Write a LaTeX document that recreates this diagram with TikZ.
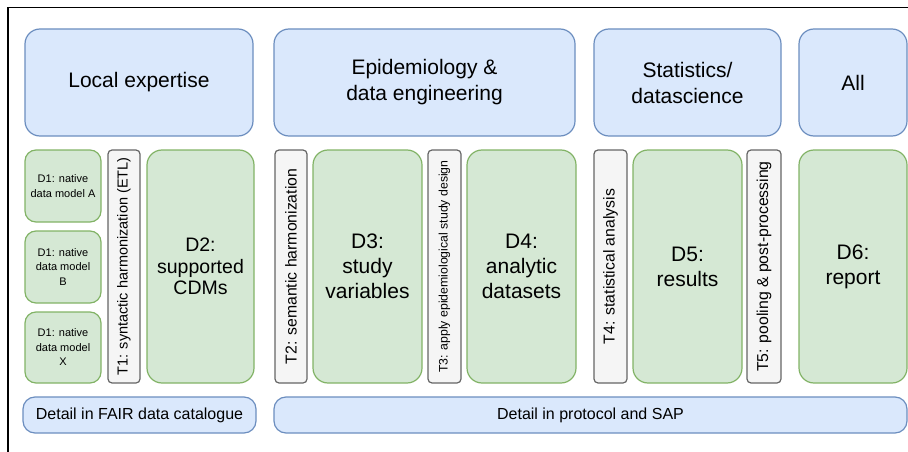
\documentclass[tikz,border=0pt]{standalone}
\usepackage{fontspec}
\setmainfont{Liberation Sans}
\definecolor{bfill}{HTML}{DAE8FC}
\definecolor{bline}{HTML}{6C8EBF}
\definecolor{gfill}{HTML}{D5E8D4}
\definecolor{gline}{HTML}{82B366}
\definecolor{tfill}{HTML}{F5F5F5}
\definecolor{tline}{HTML}{666666}
\tikzset{
  every node/.style={inner sep=0pt, outer sep=0pt},
  headbox/.style={draw=bline, fill=bfill, line width=1.2pt, rounded corners=15pt, align=center,
     font=\fontsize{21}{26}\selectfont},
  footbox/.style={draw=bline, fill=bfill, line width=1.2pt, rounded corners=12pt, align=center,
     font=\fontsize{16}{19}\selectfont},
  dbox/.style={draw=gline, fill=gfill, line width=1.2pt, rounded corners=15pt, align=center,
     font=\fontsize{21}{25}\selectfont},
  dsmall/.style={draw=gline, fill=gfill, line width=1.2pt, rounded corners=11pt, align=center,
     font=\fontsize{11}{14.5}\selectfont},
  tbox/.style={draw=tline, fill=tfill, line width=1.2pt, rounded corners=4pt, rotate=90,
     font=\fontsize{15.8}{18}\selectfont},
}
\newcommand{\bx}[6]{\node[#1, minimum width=#4, minimum height=#5] (#6) at (#2,#3)}
\begin{document}
\begin{tikzpicture}[x=1pt,y=-1pt]
\useasboundingbox (0,0) rectangle (908,452);
\draw[line width=1.5pt] (8,452) -- (8,7.5) -- (908,7.5);
% header row
\bx{headbox}{139}{82.5}{228}{107}{local} {Local expertise};
\bx{headbox}{424.5}{82.5}{301}{107}{epi} {Epidemiology \&\\data engineering};
\bx{headbox}{687.5}{82.5}{187}{107}{stat} {Statistics/\\datascience};
\bx{headbox}{853}{82.5}{108}{107}{all} {All};
% D1 boxes
\bx{dsmall}{63}{186}{76}{72}{d1a} {D1: native\\data model A};
\bx{dsmall}{63}{267}{76}{72}{d1b} {D1: native\\data model\\B};
\bx{dsmall}{63}{347.5}{76}{71}{d1x} {D1: native\\data model\\X};
% transformation boxes (rotated: width = vertical extent)
\bx{tbox,font=\fontsize{14.5}{17}\selectfont}{124}{266.5}{233}{32}{t1} {T1: syntactic harmonization (ETL)};
\bx{tbox}{291}{266.5}{233}{32}{t2} {T2: semantic harmonization};
\bx{tbox,font=\fontsize{12.3}{14}\selectfont}{444.5}{266.5}{233}{33}{t3} {T3: apply epidemiological study design};
\bx{tbox}{610.5}{266.5}{233}{33}{t4} {T4: statistical analysis};
\bx{tbox}{764}{266.5}{233}{34}{t5} {T5: pooling \& post-processing};
% data boxes
\bx{dbox,font=\fontsize{19.5}{21.5}\selectfont}{200.5}{266.5}{107}{233}{d2} {D2:\\supported\\CDMs};
\bx{dbox}{367.5}{266.5}{109}{233}{d3} {D3:\\study\\variables};
\bx{dbox}{521.5}{266.5}{109}{233}{d4} {D4:\\analytic\\datasets};
\bx{dbox}{687.5}{266.5}{109}{233}{d5} {D5:\\results};
\bx{dbox}{853}{266.5}{108}{233}{d6} {D6:\\report};
% footer row
\bx{footbox}{139.5}{415}{233}{36}{fair} {Detail in FAIR data catalogue};
\bx{footbox}{590.5}{415}{633}{36}{proto} {Detail in protocol and SAP};
\end{tikzpicture}
\end{document}
